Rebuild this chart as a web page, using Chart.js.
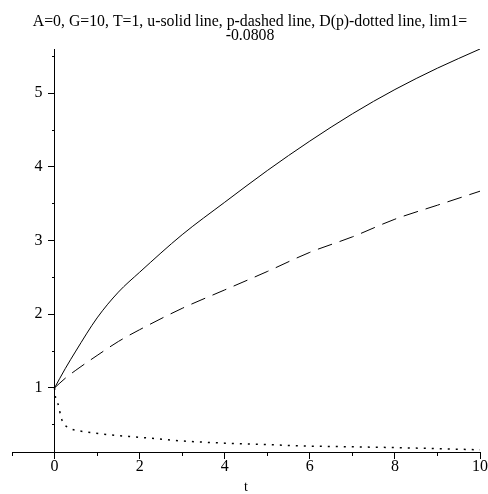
<!DOCTYPE html>
<html>
<head>
<meta charset="utf-8">
<script src="https://cdn.jsdelivr.net/npm/chart.js@4.4.0/dist/chart.umd.min.js"></script>
<style>
	html, body { margin: 0; padding: 0; background: #fff; }
</style>
</head>
<body>
<canvas id="mycanvas" width="488" height="494"></canvas>
<script>
// t values and curves
var tU = [0, 0.25, 0.5, 1, 1.5, 2, 3, 4, 5, 6, 7, 8, 9, 10];
var u = [1, 1.26, 1.50, 1.95, 2.30, 2.57, 3.08, 3.52, 3.95, 4.35, 4.72, 5.05, 5.34, 5.6];

var tP = [0, 0.25, 0.5, 1, 1.5, 2, 3, 4, 5, 6, 7, 8, 9, 10];
var p = [1, 1.13, 1.24, 1.44, 1.63, 1.79, 2.08, 2.33, 2.58, 2.84, 3.05, 3.29, 3.48, 3.67];

var tD = [0, 0.02, 0.1, 0.14, 0.2, 0.37, 0.56, 0.76, 0.95, 1.35, 2, 3, 4, 5, 6, 7, 8, 9, 10];
var D = [1, 0.88, 0.75, 0.63, 0.53, 0.45, 0.42, 0.40, 0.385, 0.36, 0.33, 0.28, 0.25, 0.23, 0.21, 0.2, 0.19, 0.175, 0.16];

var xMajor = [0, 2, 4, 6, 8, 10];
var xMinor = [-1, 1, 3, 5, 7, 9];
var yMajor = [1, 2, 3, 4, 5];
var yMinor = [0.5, 1.5, 2.5, 3.5, 4.5, 5.5];

var titleLines = ["A=0, G=10, T=1, u-solid line, p-dashed line, D(p)-dotted line, lim1=", "-0.0808"];

function pts(xs, ys) {
	var out = [];
	for (var i in xs) {
		out.push({x: xs[i], y: ys[i]});
	}
	return out;
}

function fixTicks(list) {
	return function(axis) {
		axis.ticks = list.map(function(v) { return {value: v}; });
	};
}

var serif = "'Liberation Serif', 'Times New Roman', serif";
var xMin = -1, xMax = 10, yMin = 0.13, yMax = 5.6;

var ctx = document.getElementById("mycanvas");

var lineGraph = new Chart(ctx, {
	type: 'line',
	data: {
		datasets: [
			{
				label: 'u',
				data: pts(tU, u),
				borderColor: '#000',
				borderWidth: 1,
				pointRadius: 0,
				cubicInterpolationMode: 'monotone'
			},
			{
				label: 'p',
				data: pts(tP, p),
				borderColor: '#000',
				borderWidth: 1,
				borderDash: [15, 8],
				pointRadius: 0,
				cubicInterpolationMode: 'monotone'
			},
			{
				label: 'D(p)',
				data: pts(tD, D),
				borderColor: '#000',
				borderWidth: 1.5,
				borderDash: [2, 6],
				pointRadius: 0,
				cubicInterpolationMode: 'monotone'
			}
		]
	},
	options: {
		responsive: false,
		animation: false,
		layout: { padding: { left: 12, right: 0, top: 0, bottom: 0 } },
		plugins: {
			legend: { display: false },
			tooltip: { enabled: false },
			title: {
				display: true,
				text: titleLines,
				color: '#000',
				font: { family: serif, size: 15.8, weight: 'normal', lineHeight: '14px' },
				padding: { top: 15, bottom: 6 }
			}
		},
		scales: {
			x: {
				type: 'linear',
				min: xMin,
				max: xMax,
				afterBuildTicks: fixTicks(xMajor),
				ticks: {
					color: '#000',
					padding: 0,
					maxRotation: 0,
					autoSkip: false,
					font: { family: serif, size: 16, lineHeight: 1 }
				},
				grid: { drawOnChartArea: false, color: '#000', tickLength: 7 },
				border: { color: '#000', width: 1 },
				title: {
					display: true,
					text: 't',
					color: '#000',
					font: { family: serif, size: 14, lineHeight: 1 },
					padding: { top: 5, bottom: 0 }
				}
			},
			xMinor: {
				type: 'linear',
				min: xMin,
				max: xMax,
				position: { y: yMin },
				afterBuildTicks: fixTicks(xMinor),
				ticks: { display: false },
				grid: { drawOnChartArea: false, color: '#000', tickLength: 4 },
				border: { display: false }
			},
			y: {
				type: 'linear',
				min: yMin,
				max: yMax,
				position: { x: 0 },
				afterBuildTicks: fixTicks(yMajor),
				ticks: {
					color: '#000',
					autoSkip: false,
					font: { family: serif, size: 16 },
					// labels sit against the axis when it is placed at x=0, so pad them
					callback: function(v) { return v + '\u00A0\u00A0\u00A0'; }
				},
				grid: { drawOnChartArea: false, color: '#000', tickLength: 6 },
				border: { color: '#000', width: 1 }
			},
			yMinor: {
				type: 'linear',
				min: yMin,
				max: yMax,
				position: { x: 0 },
				afterBuildTicks: fixTicks(yMinor),
				ticks: { display: false },
				grid: { drawOnChartArea: false, color: '#000', tickLength: 3 },
				border: { display: false }
			}
		}
	}
});
</script>
</body>
</html>
